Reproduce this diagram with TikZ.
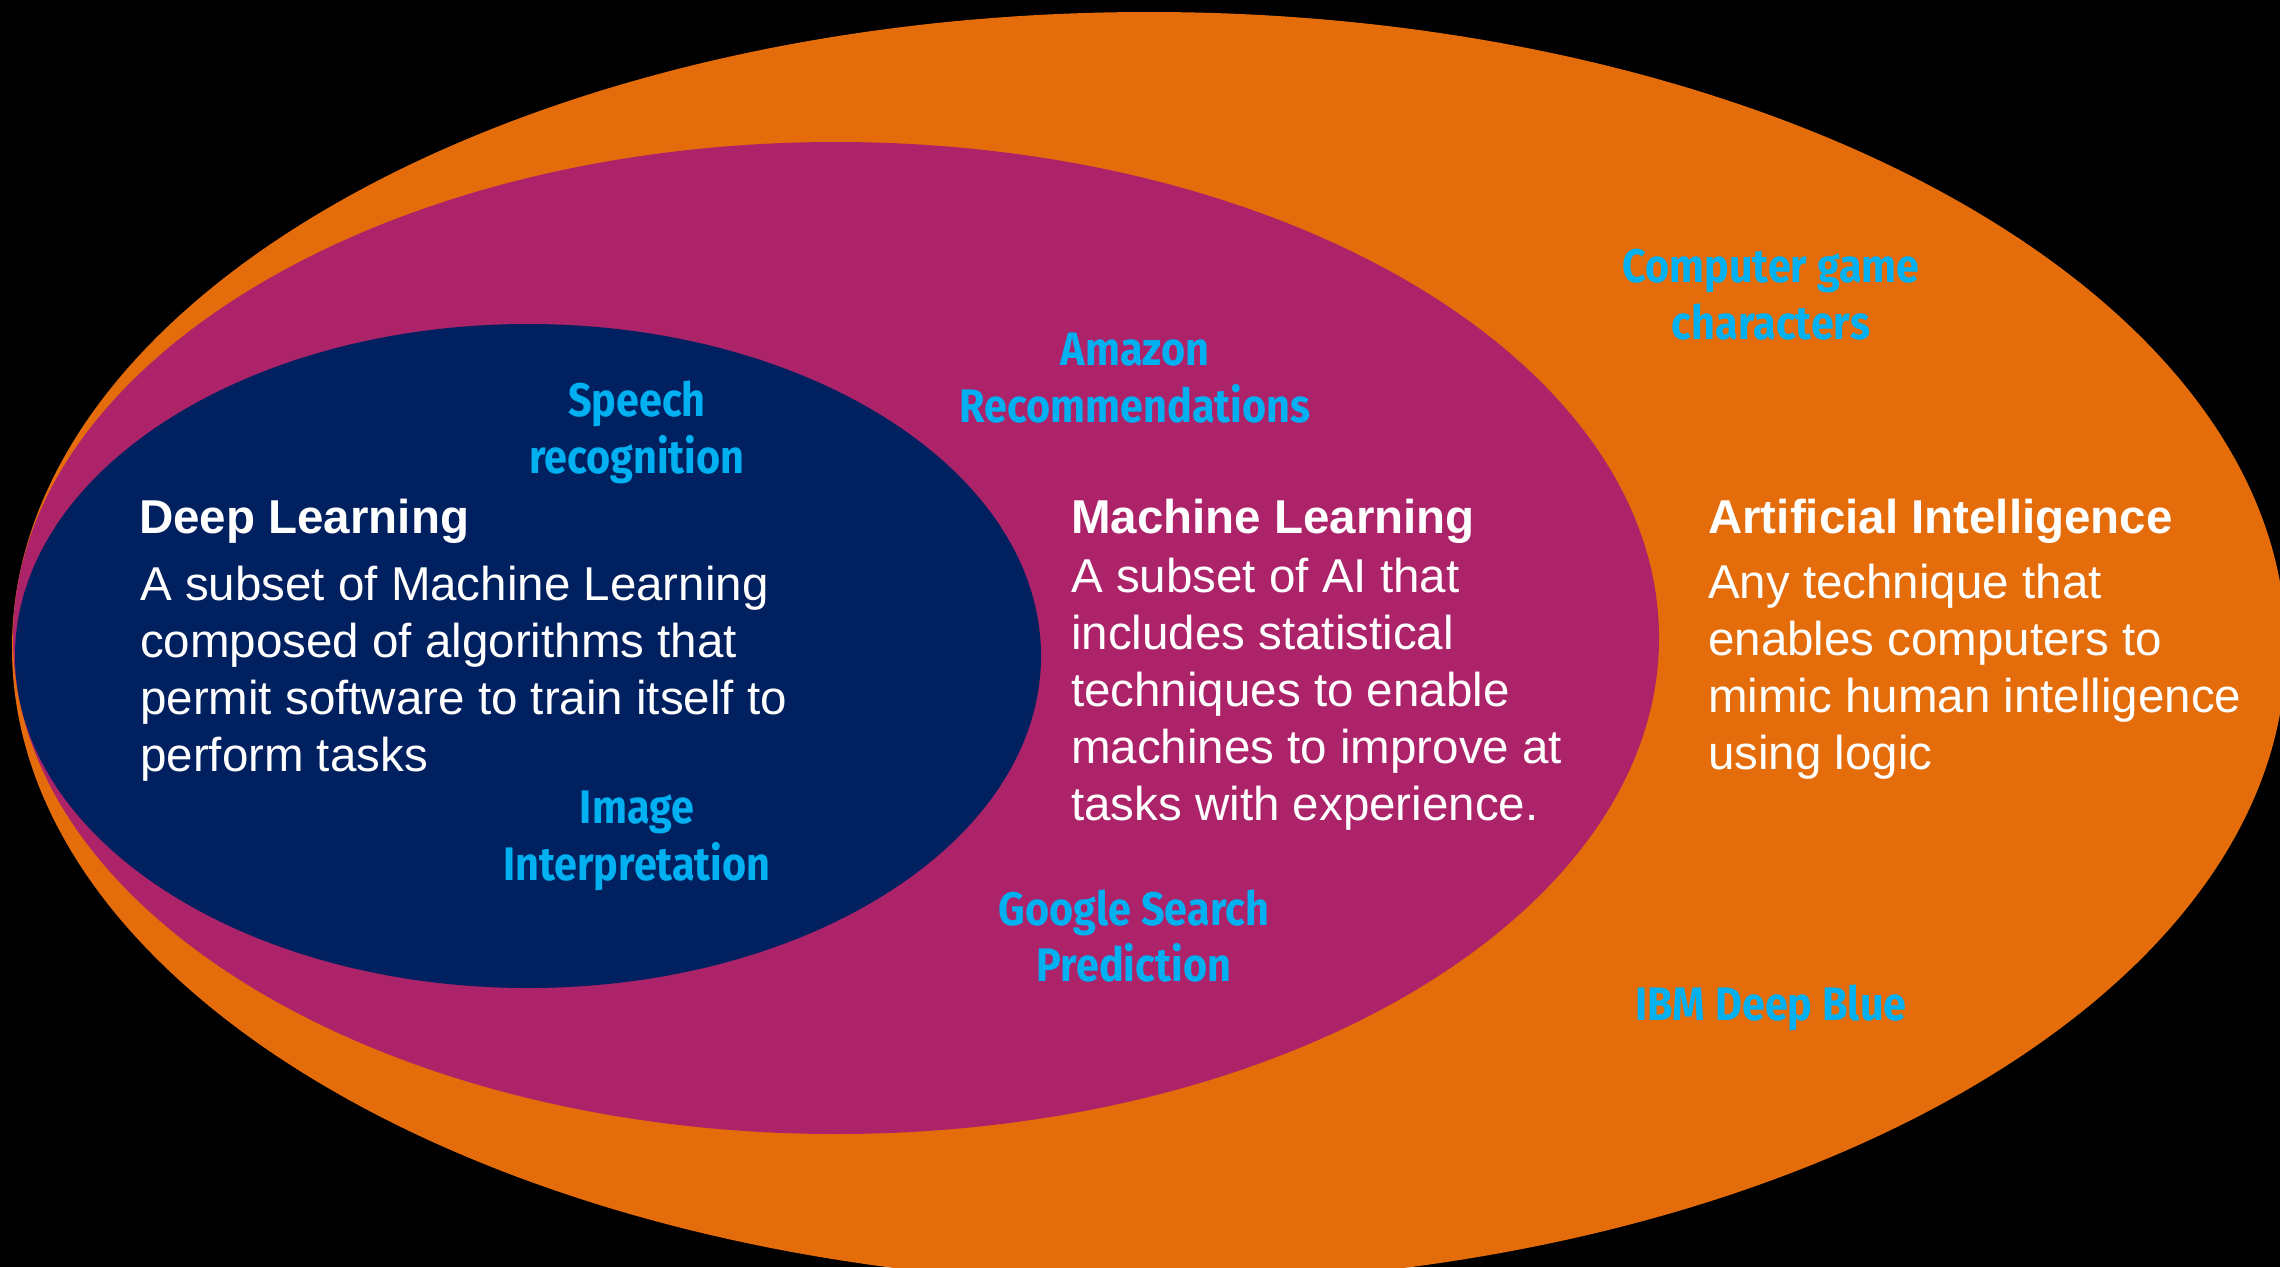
\documentclass[tikz,border=0pt]{standalone}
\usepackage{fontspec}
\setmainfont{Liberation Sans}
\newfontfamily\tagfont[FakeStretch=0.88]{Fira Sans}
\definecolor{aiorange}{HTML}{E46C0A}
\definecolor{mlmagenta}{HTML}{AD236A}
\definecolor{dlnavy}{HTML}{002060}
\definecolor{tagblue}{HTML}{00B0F0}

\begin{document}
\begin{tikzpicture}[x=1pt, y=-1pt,
  heading/.style={text=white, inner sep=0, anchor=base west, font=\fontsize{47.5}{57}\selectfont\bfseries},
  bodyline/.style={text=white, inner sep=0, anchor=base west, font=\fontsize{47.5}{57}\selectfont},
  tag/.style={text=tagblue, inner sep=0, anchor=base, font=\tagfont\bfseries\fontsize{47}{57}\selectfont}]
  \useasboundingbox (0,0) rectangle (2280,1267);
  \clip (0,0) rectangle (2280,1267);
  \fill[black] (0,0) rectangle (2280,1267);
  % nested sets
  \fill[aiorange] (1149,648) ellipse [x radius=1137, y radius=636];
  \fill[mlmagenta] (836,638) ellipse [x radius=823, y radius=496];
  \fill[dlnavy] (528,656) ellipse [x radius=513, y radius=332];
  % headings
  \node[heading] (dl) at (139,533) {Deep Learning};
  \node[heading] (ml) at (1071,533) {Machine Learning};
  \node[heading] (ai) at (1708,533) {Artificial Intelligence};
  % descriptions
  \foreach \txt [count=\i from 0] in {A subset of Machine Learning, composed of algorithms that,
      permit software to train itself to, perform tasks}
    \node[bodyline] (dl-\i) at (140,{600+57*\i}) {\txt};
  \foreach \txt [count=\i from 0] in {A subset of AI that, includes statistical,
      techniques to enable, machines to improve at, tasks with experience.}
    \node[bodyline] (ml-\i) at (1071,{592+57*\i}) {\txt};
  \foreach \txt [count=\i from 0] in {Any technique that, enables computers to,
      mimic human intelligence, using logic}
    \node[bodyline] (ai-\i) at (1708,{598+57*\i}) {\txt};
  % examples
  \foreach \txt [count=\i from 0] in {Speech, recognition}
    \node[tag] (speech-\i) at (637,{416+57*\i}) {\txt};
  \foreach \txt [count=\i from 0] in {Image, Interpretation}
    \node[tag] (image-\i) at (637,{823+57*\i}) {\txt};
  \foreach \txt [count=\i from 0] in {Amazon, Recommendations}
    \node[tag] (amazon-\i) at (1135,{365+57*\i}) {\txt};
  \foreach \txt [count=\i from 0] in {Google Search, Prediction}
    \node[tag] (google-\i) at (1134,{925+56*\i}) {\txt};
  \foreach \txt [count=\i from 0] in {Computer game, characters}
    \node[tag] (game-\i) at (1771,{282+57*\i}) {\txt};
  \node[tag] (ibm) at (1771,1020) {IBM Deep Blue};
\end{tikzpicture}
\end{document}
